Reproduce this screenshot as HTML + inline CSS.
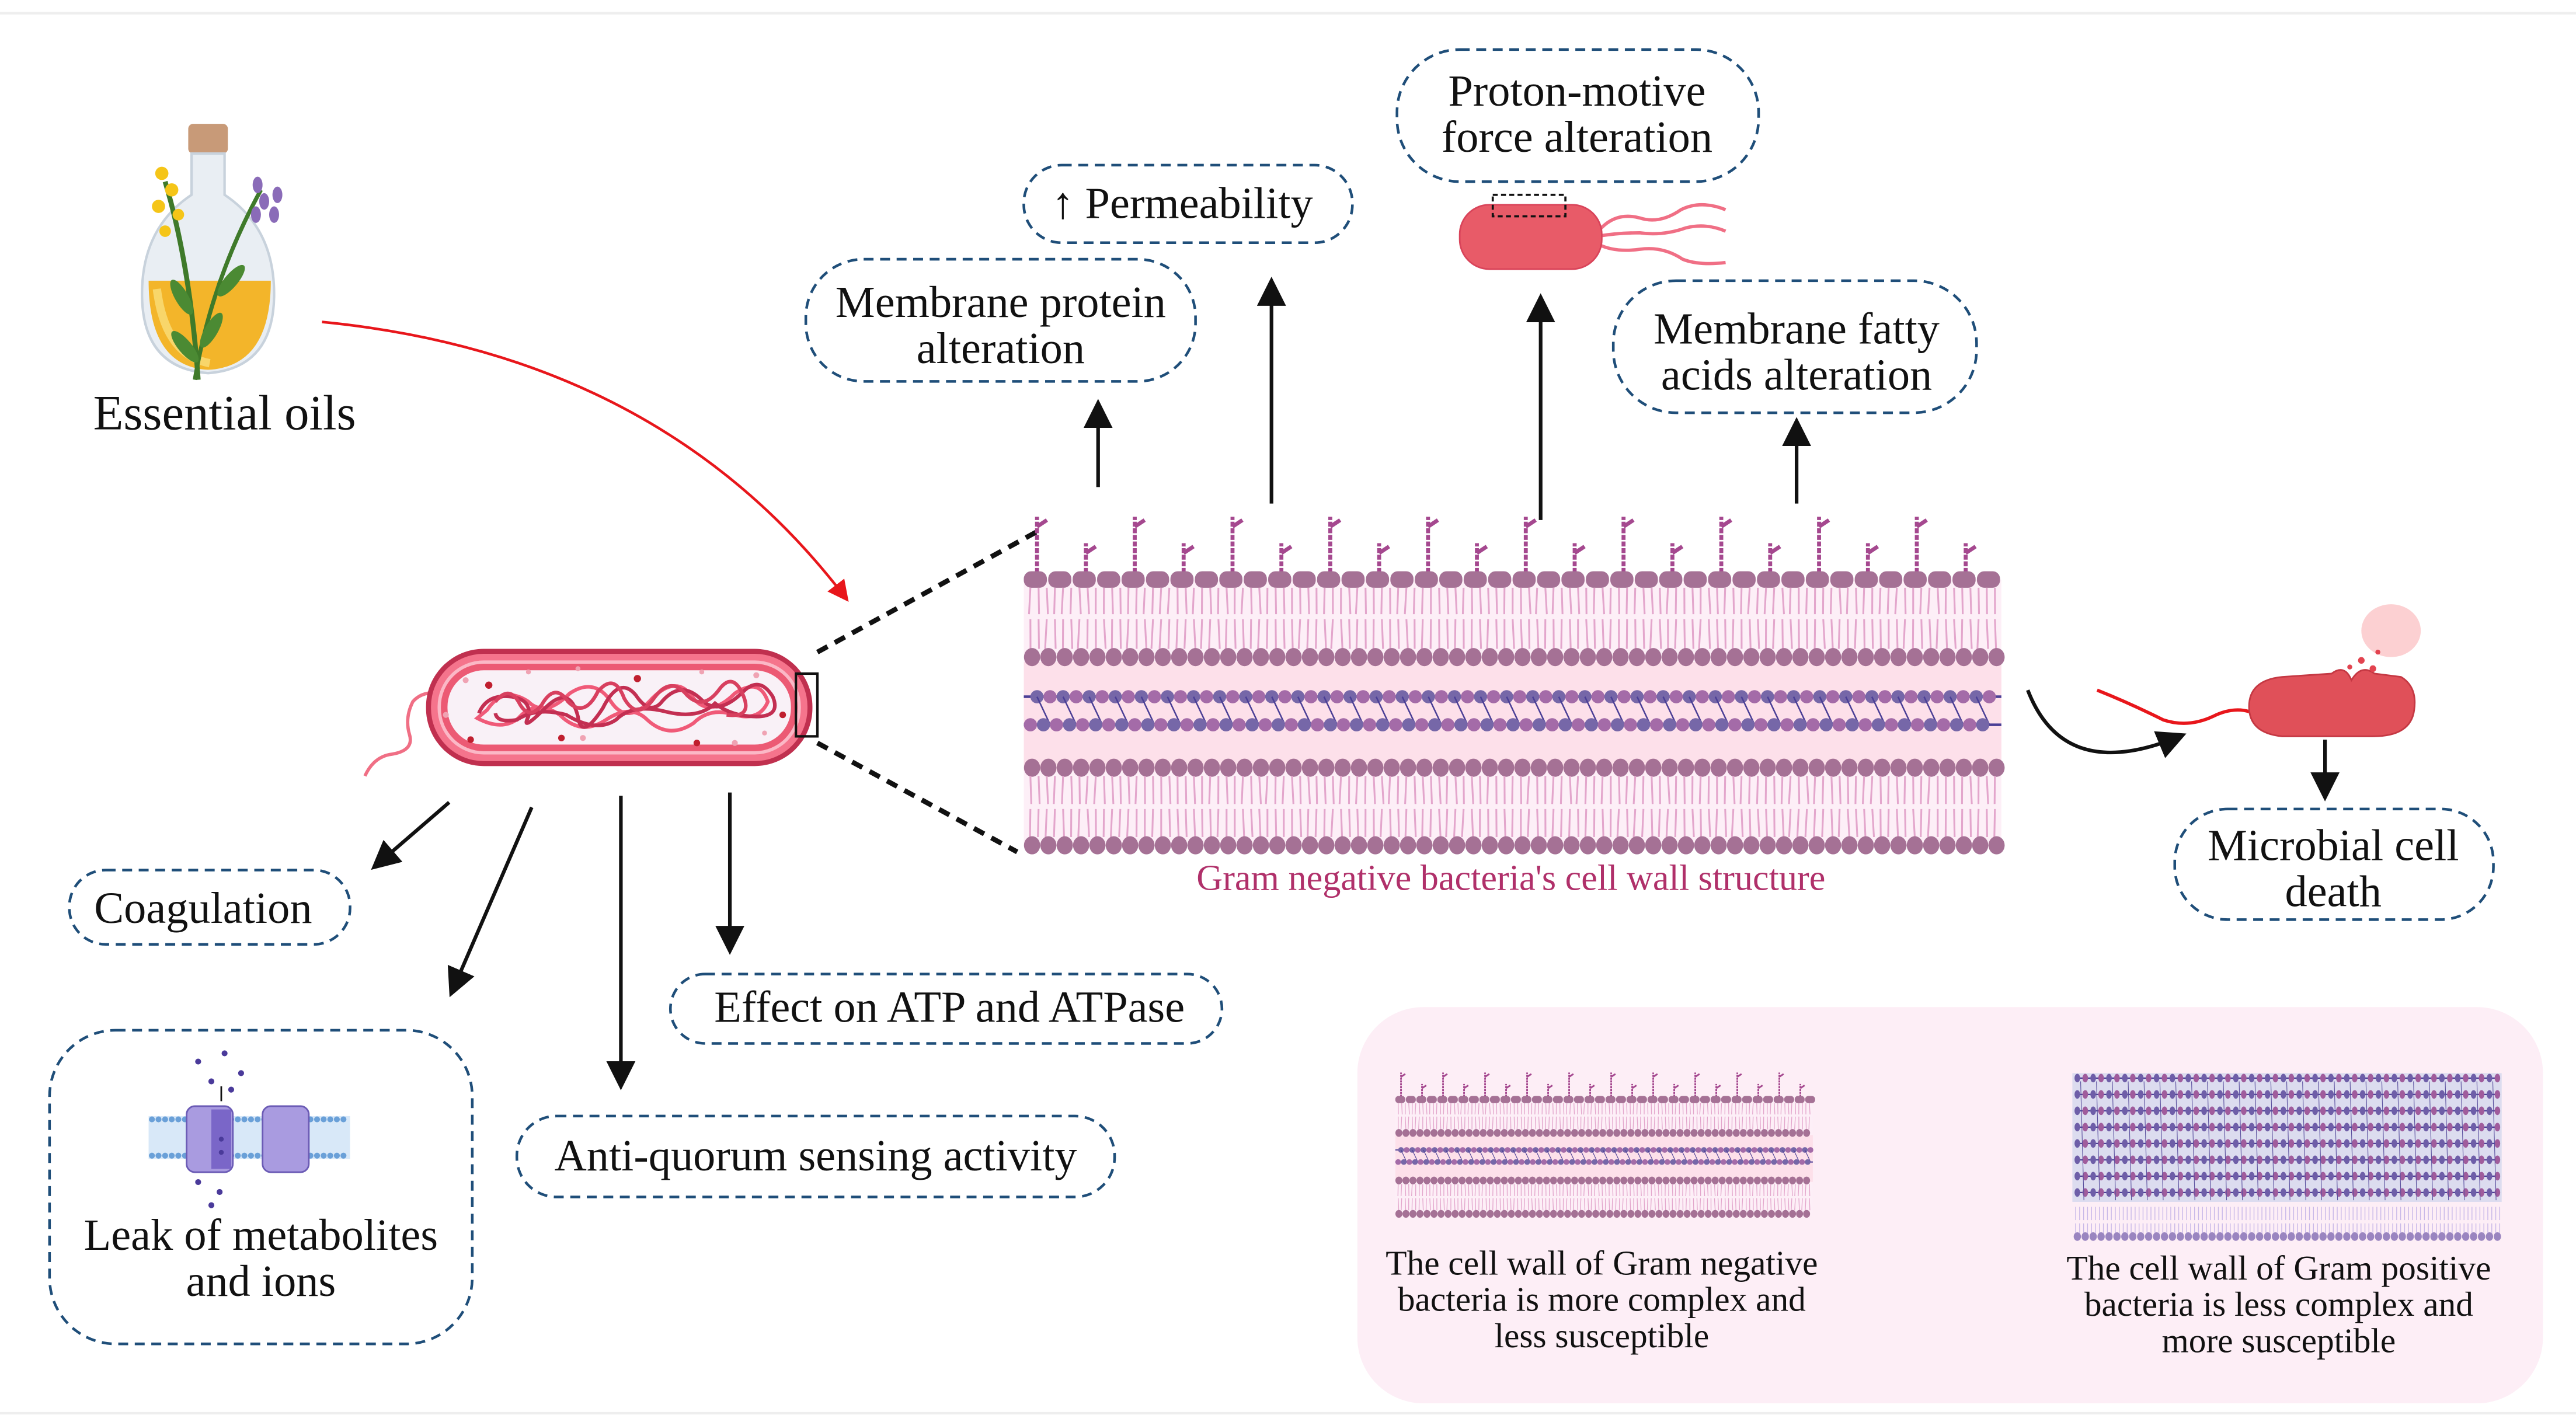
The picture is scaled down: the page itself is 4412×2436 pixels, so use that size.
<!DOCTYPE html>
<html><head><meta charset="utf-8"><style>
html,body{margin:0;padding:0;background:#fff;}
svg{display:block}
text{font-family:"Liberation Serif",serif;fill:#111}
</style></head><body>
<svg id="s" xmlns="http://www.w3.org/2000/svg" width="4412" height="2436" viewBox="0 0 1560 861.3">
<defs>
<marker id="ah" markerWidth="8" markerHeight="8" refX="6" refY="4" orient="auto" markerUnits="strokeWidth"><path d="M0,0 L8,4 L0,8 Z" fill="#111"/></marker>
<marker id="ahr" markerWidth="8" markerHeight="8" refX="6" refY="4" orient="auto" markerUnits="strokeWidth"><path d="M0,0 L8,4 L0,8 Z" fill="#e8161b"/></marker>
</defs>
<line x1="0" y1="8" x2="1560" y2="8" stroke="#eee" stroke-width="1.5"/>
<line x1="0" y1="856" x2="1560" y2="856" stroke="#eee" stroke-width="1.5"/>

<g>
<rect x="114" y="75" width="24" height="18" rx="3" fill="#c89a78"/>
<path d="M116,93 h20 v25 q30,20 30,60 q0,45 -40,48 q-40,-3 -40,-48 q0,-40 30,-60 z" fill="#e9eef3" stroke="#c8d2dc" stroke-width="1.5"/>
<path d="M90,170 q0,52 36,54 q38,-2 38,-54 z" fill="#f3b52a"/>
<path d="M95,175 q5,40 32,45" stroke="#f8d66a" stroke-width="5" fill="none"/>
<path d="M120,230 q-5,-70 -20,-120" stroke="#3f7a2a" stroke-width="3" fill="none"/>
<path d="M118,230 q10,-60 40,-115" stroke="#3f7a2a" stroke-width="2.5" fill="none"/>
<g fill="#f5c518"><circle cx="98" cy="105" r="4"/><circle cx="104" cy="115" r="4"/><circle cx="96" cy="125" r="4"/><circle cx="108" cy="130" r="3.5"/><circle cx="100" cy="140" r="3.5"/></g>
<g fill="#8a6bb8"><ellipse cx="156" cy="112" rx="3" ry="5"/><ellipse cx="160" cy="122" rx="3" ry="5"/><ellipse cx="155" cy="130" rx="3" ry="5"/><ellipse cx="168" cy="118" rx="3" ry="5"/><ellipse cx="166" cy="130" rx="3" ry="5"/></g>
<g fill="#4b8a33"><ellipse cx="110" cy="180" rx="4" ry="12" transform="rotate(-30 110 180)"/><ellipse cx="128" cy="200" rx="4" ry="12" transform="rotate(30 128 200)"/><ellipse cx="112" cy="210" rx="4" ry="12" transform="rotate(-40 112 210)"/><ellipse cx="140" cy="170" rx="4" ry="12" transform="rotate(40 140 170)"/></g>
</g>
<text x="136" y="260" font-size="30" text-anchor="middle">Essential oils</text>

<path d="M195,195 Q400,215 512,362" stroke="#e8161b" stroke-width="1.6" fill="none" marker-end="url(#ahr)"/>

<g>
<path d="M268,420 q-12,-2 -18,5 q-5,10 -2,20 q3,10 -12,12 q-10,2 -15,13" stroke="#f06f85" stroke-width="2" fill="none"/>
<rect x="258" y="393" width="234" height="71" rx="35" fill="#c0304f"/>
<rect x="261" y="396" width="228" height="65" rx="32" fill="#f5748c"/>
<rect x="265" y="400" width="220" height="57" rx="28" fill="#fbb8c6"/>
<rect x="267" y="402" width="216" height="53" rx="26" fill="#ec5a74"/>
<rect x="271" y="406" width="208" height="45" rx="22" fill="#f9f1f7"/>
<g fill="none" stroke-width="2.2">
<path d="M295,430 q10,-15 25,-5 q10,10 25,-5 q15,-10 25,5 q10,15 25,-2 q15,-15 25,0 q10,12 25,-3 q15,-10 20,5 q-5,12 -20,8 q-15,-5 -25,5 q-15,10 -28,-2 q-10,-10 -25,0 q-15,10 -28,-3 q-15,-10 -25,2 q-10,8 -25,0 z" stroke="#f05a78"/>
<path d="M290,432 q5,-12 20,-10 q12,2 10,12 q-5,10 10,-5 q15,-15 20,5 q2,15 15,-5 q10,-20 20,-8 q8,12 15,5 q12,-15 25,-2 q10,10 25,-5 q10,-10 18,3 q5,12 -10,12 q-15,0 -25,-8 q-10,10 -30,5 q-20,-5 -30,5 q-12,8 -30,-3 q-18,-5 -30,3 q-12,2 -13,-4" stroke="#c32f52"/>
<path d="M300,425 q8,-10 14,0 q6,12 14,2 q8,-14 16,-2 q10,10 18,-6 q10,-12 16,4 q8,14 18,0 q10,-14 20,-2 q10,10 20,-4 q8,-10 14,4 q6,14 -10,12" stroke="#d8405f"/>
</g>
<g fill="#c01f2f"><circle cx="296" cy="415" r="2.2"/><circle cx="386" cy="411" r="2.2"/><circle cx="285" cy="448" r="2"/><circle cx="340" cy="447" r="2"/><circle cx="422" cy="450" r="2"/><circle cx="474" cy="433" r="2"/></g>
<g fill="#f0a3b3"><circle cx="282" cy="412" r="1.8"/><circle cx="320" cy="407" r="1.5"/><circle cx="350" cy="405" r="1.5"/><circle cx="425" cy="407" r="1.5"/><circle cx="458" cy="409" r="1.8"/><circle cx="353" cy="447" r="1.8"/><circle cx="445" cy="450" r="1.8"/><circle cx="463" cy="444" r="1.5"/><circle cx="270" cy="433" r="1.8"/></g>
<rect x="482" y="408" width="13" height="38" fill="none" stroke="#111" stroke-width="1.5"/>
</g>
<line x1="495" y1="395" x2="628" y2="322" stroke="#111" stroke-width="3" stroke-dasharray="7,5"/>
<line x1="495" y1="450" x2="616" y2="516" stroke="#111" stroke-width="3" stroke-dasharray="7,5"/>

<g stroke="#111" stroke-width="2.2" fill="none">
<line x1="272" y1="486" x2="228" y2="524" marker-end="url(#ah)"/>
<line x1="322" y1="489" x2="274" y2="600" marker-end="url(#ah)"/>
<line x1="376" y1="482" x2="376" y2="656" marker-end="url(#ah)"/>
<line x1="442" y1="480" x2="442" y2="574" marker-end="url(#ah)"/>
<line x1="665" y1="295" x2="665" y2="246" marker-end="url(#ah)"/>
<line x1="770" y1="305" x2="770" y2="172" marker-end="url(#ah)"/>
<line x1="933" y1="315" x2="933" y2="182" marker-end="url(#ah)"/>
<line x1="1088" y1="305" x2="1088" y2="257" marker-end="url(#ah)"/>
<line x1="1408" y1="448" x2="1408" y2="481" marker-end="url(#ah)"/>
<path d="M1228,418 Q1250,475 1320,446" marker-end="url(#ah)"/>
</g>

<g fill="none" stroke="#1f4e79" stroke-width="1.6" stroke-dasharray="6,4">
<rect x="42" y="527" width="170" height="45" rx="22"/>
<rect x="30" y="624" width="256" height="190" rx="40"/>
<rect x="406" y="590" width="334" height="42" rx="21"/>
<rect x="313" y="676" width="362" height="49" rx="24"/>
<rect x="488" y="157" width="236" height="74" rx="35"/>
<rect x="620" y="100" width="199" height="47" rx="23"/>
<rect x="846" y="30" width="219" height="80" rx="38"/>
<rect x="977" y="170" width="220" height="80" rx="38"/>
<rect x="1317" y="490" width="193" height="67" rx="32"/>
</g>
<g font-size="27" text-anchor="middle">
<text x="123" y="559">Coagulation</text>
<text x="158" y="757">Leak of metabolites</text>
<text x="158" y="785">and ions</text>
<text x="575" y="619">Effect on ATP and ATPase</text>
<text x="494" y="709">Anti-quorum sensing activity</text>
<text x="606" y="192">Membrane protein</text>
<text x="606" y="220">alteration</text>
<text x="716" y="132">↑ Permeability</text>
<text x="955" y="64">Proton-motive</text>
<text x="955" y="92">force alteration</text>
<text x="1088" y="208">Membrane fatty</text>
<text x="1088" y="236">acids alteration</text>
<text x="1413" y="521">Microbial cell</text>
<text x="1413" y="549">death</text>
</g>

<g>
<rect x="90" y="676" width="122" height="26" fill="#d8e8f8"/>
<g id="leakl"></g>
<rect x="113" y="670" width="28" height="40" rx="5" fill="#a99be0" stroke="#6b5bb5"/>
<rect x="128" y="672" width="12" height="36" fill="#7a66c8"/>
<rect x="159" y="670" width="28" height="40" rx="5" fill="#a99be0" stroke="#6b5bb5"/>
<g fill="#4a3a9a"><circle cx="120" cy="643" r="1.8"/><circle cx="136" cy="638" r="1.8"/><circle cx="146" cy="650" r="1.8"/><circle cx="128" cy="655" r="1.8"/><circle cx="140" cy="660" r="1.8"/><circle cx="120" cy="716" r="1.8"/><circle cx="133" cy="722" r="1.8"/><circle cx="128" cy="730" r="1.8"/><circle cx="134" cy="690" r="1.5"/><circle cx="134" cy="698" r="1.5"/></g>
<line x1="134" y1="667" x2="134" y2="658" stroke="#111" stroke-width="1"/>
</g>

<g>
<path d="M968,140 q10,-12 25,-8 q12,4 25,-5 q12,-6 27,0 M968,143 q12,-2 25,-2 q14,2 28,-3 q12,-3 24,2 M968,148 q10,5 25,3 q14,-2 26,6 q10,4 26,2" stroke="#f06f85" stroke-width="2" fill="none"/>
<rect x="884" y="124" width="86" height="39" rx="18" fill="#e85b68" stroke="#d9445a"/>
<rect x="904" y="118" width="44" height="13" fill="none" stroke="#111" stroke-width="1.3" stroke-dasharray="3,2"/>
</g>

<g>
<path d="M1270,418 q20,8 40,18 q15,5 30,-2 q12,-6 22,-3" stroke="#e8161b" stroke-width="2" fill="none"/>
<path d="M1362,428 q0,-16 20,-18 l30,-2 q8,-6 12,4 q6,-10 14,-4 l16,2 q10,6 8,20 q-2,16 -25,16 l-55,0 q-20,-2 -20,-18 z" fill="#e05059" stroke="#c53843"/>
<ellipse cx="1448" cy="382" rx="18" ry="16" fill="#fbc4c7" opacity="0.8"/>
<g fill="#e2434f"><circle cx="1430" cy="400" r="2"/><circle cx="1440" cy="395" r="1.5"/><circle cx="1423" cy="404" r="1.5"/><circle cx="1437" cy="405" r="2"/></g>
</g>

<g id="mem"></g>
<text x="915" y="539" font-size="22" text-anchor="middle" style="fill:#b0306a">Gram negative bacteria's cell wall structure</text>

<rect x="822" y="610" width="718" height="240" rx="40" fill="#fdeef6"/>
<g id="mini"></g>
<g id="gpos"></g>
<g font-size="21" text-anchor="middle">
<text x="970" y="772">The cell wall of Gram negative</text>
<text x="970" y="794">bacteria is more complex and</text>
<text x="970" y="816">less susceptible</text>
<text x="1380" y="775">The cell wall of Gram positive</text>
<text x="1380" y="797">bacteria is less complex and</text>
<text x="1380" y="819">more susceptible</text>
</g>
</svg>
<script>
var NS="http://www.w3.org/2000/svg";
function el(p,t,a){var e=document.createElementNS(NS,t);for(var k in a)e.setAttribute(k,a[k]);p.appendChild(e);return e;}
function membrane(g,x0,x1,y0,s,lps){
 var w=x1-x0;
 el(g,'rect',{x:x0,y:y0,width:w,height:161*s,fill:'#fdeff7'});
 el(g,'rect',{x:x0,y:y0+50*s,width:w,height:66*s,fill:'#fde0ea'});
 var tail='#e3a6cc',head='#a57195';
 var st=14.8*s;
 if(lps){for(var i=0,x=x0+8*s;x<x1-4*s;i++,x+=st*2){
   var h=((i%2)?22:38)*s;
   el(g,'line',{x1:x,y1:y0,x2:x,y2:y0-h,stroke:'#a5488f','stroke-width':2.4*s,'stroke-dasharray':(3*s)+','+(1*s)});
   el(g,'line',{x1:x,y1:y0-h+6*s,x2:x+6*s,y2:y0-h+2*s,stroke:'#a5488f','stroke-width':2.4*s});
 }}
 for(var x=x0+7*s;x<x1;x+=st) el(g,'rect',{x:x-7*s,y:y0-5*s,width:14*s,height:10*s,rx:4.5*s,fill:head});
 var cs=9.9*s;
 function tails(ya,yb){for(var x=x0+4*s;x<x1;x+=cs/2){el(g,'line',{x1:x,y1:ya,x2:x+(Math.random()-0.5)*2*s,y2:yb,stroke:tail,'stroke-width':1.1*s});}}
 tails(y0+5*s,y0+21*s);tails(y0+24*s,y0+42*s);
 function heads(y){for(var x=x0+5*s;x<x1;x+=cs) el(g,'ellipse',{cx:x,cy:y,rx:4.9*s,ry:5.5*s,fill:head});}
 heads(y0+47*s);
 var ya=y0+71*s,yb=y0+88*s,ps=15.8*s;
 el(g,'line',{x1:x0,y1:ya,x2:x1,y2:ya,stroke:'#4b3f96','stroke-width':1.6*s});
 el(g,'line',{x1:x0,y1:yb,x2:x1,y2:yb,stroke:'#4b3f96','stroke-width':1.6*s});
 for(var i=0,x=x0+8*s;x<x1;i++,x+=ps/2){
   var c1=(i%2)?'#a46ba8':'#7667a8',c2=(i%2)?'#7667a8':'#a46ba8';
   el(g,'circle',{cx:x,cy:ya,r:4*s,fill:c1});
   el(g,'circle',{cx:x-4*s,cy:yb,r:4*s,fill:c2});
   if(i%2==0) el(g,'line',{x1:x,y1:ya,x2:x+8*s,y2:yb,stroke:'#4b3f96','stroke-width':0.9*s});
 }
 heads(y0+114*s);
 tails(y0+119*s,y0+136*s);tails(y0+139*s,y0+156*s);
 heads(y0+161*s);
}
membrane(document.getElementById('mem'),620,1212,351,1,true);
var m=document.getElementById('mini');m.setAttribute('transform','translate(845,666) scale(0.43)');
membrane(m,0,588,0,1,true);
var gp=document.getElementById('gpos');
el(gp,'rect',{x:1255,y:650,width:260,height:78,fill:'#dcdcef'});
for(var r=0;r<8;r++){var y=653+r*9.9;
 el(gp,'line',{x1:1257,y1:y,x2:1513,y2:y,stroke:'#4b3f96','stroke-width':0.8});
 for(var x=1258,i=0;x<1513;x+=4.8,i++){el(gp,'ellipse',{cx:x,cy:y,rx:1.7,ry:2.6,fill:(i%2)?'#a05c9c':'#6e5ea8'});}}
for(var x=1260;x<1512;x+=9.6){el(gp,'line',{x1:x,y1:655,x2:x+2,y2:727,stroke:'#5a4f9e','stroke-width':0.4});}
for(var x=1257;x<1514;x+=2.4){el(gp,'line',{x1:x,y1:731,x2:x,y2:739,stroke:'#c8b8e8','stroke-width':0.5});el(gp,'line',{x1:x,y1:741,x2:x,y2:748,stroke:'#c8b8e8','stroke-width':0.5});}
for(var x=1258;x<1514;x+=4.8){el(gp,'ellipse',{cx:x,cy:749,rx:2.2,ry:2.6,fill:'#9a85c0'});}
var lk=document.getElementById('leakl');
for(var x=92;x<212;x+=4){el(lk,'circle',{cx:x,cy:678,r:1.8,fill:'#6aa0d8'});el(lk,'circle',{cx:x,cy:700,r:1.8,fill:'#6aa0d8'});}
</script>
</body></html>
